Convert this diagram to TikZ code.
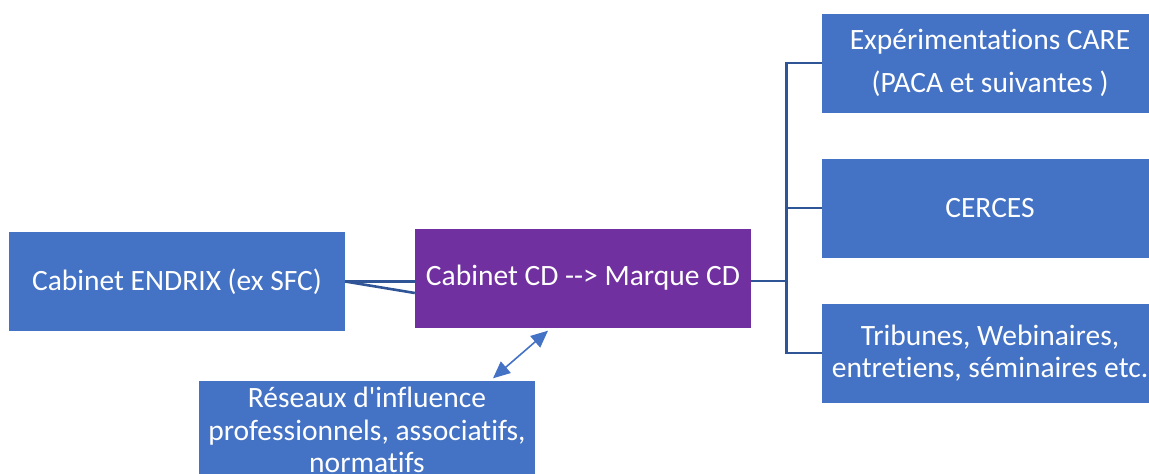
\documentclass[tikz,border=0pt]{standalone}
\usepackage{fontspec}
\setmainfont{Carlito}[Ligatures={NoCommon}]
\usetikzlibrary{calc,arrows.meta}
\definecolor{bleu}{HTML}{4472C4}
\definecolor{violetcd}{HTML}{7030A0}
\definecolor{trait}{HTML}{2F5597}
\tikzset{
  boite/.style={fill=bleu,text=white,minimum width=336pt,minimum height=99pt,
    inner sep=0pt,align=center,font=\fontsize{29.5}{32.5}\selectfont},
  tige/.style={draw=trait,line width=2.6pt},
  lien/.style={draw=bleu,line width=1.6pt,{Triangle[width=15pt,length=17pt]}-{Triangle[width=15pt,length=17pt]}}
}
\begin{document}
\begin{tikzpicture}[x=1pt,y=-1pt]
      \useasboundingbox (0,0) rectangle (1149,474);
      \clip (0,0) rectangle (1149,474);
      \node[boite] (E) at (177,281.5) {Cabinet ENDRIX (ex SFC)};
      \node[boite,fill=violetcd] (C) at (583,278) {Cabinet CD -{}-> Marque CD};
      \node[boite] (R) at (367,430) {R\'eseaux d\textquotesingle influence\\professionnels, associatifs,\\normatifs};
      \foreach \nom/\y/\txt in {%
        P1/63/{Exp\'erimentations CARE\\[10pt](PACA et suivantes )},
        P2/208/{CERCES},
        P3/353/{Tribunes, Webinaires,\\entretiens, s\'eminaires etc.}}{%
          \node[boite] (\nom) at (990,\y) {\txt};
        }
      \draw[tige] (E.east) -- (E.east -| C.west);
      \draw[tige] (E.east) -- ($(C.west)+(0,15)$);
      \coordinate (M) at ($(C.east)+(35,3)$);
      \draw[tige] ($(C.east)+(0,3)$) -- (M);
      \draw[tige] (P1.west) -| (M) |- (P3.west);
      \draw[tige] (M |- P2.west) -- (P2.west);
      \draw[lien] ($(R.north)+(126,-2)$) -- ($(C.south)+(-35,3)$);
    \end{tikzpicture}
\end{document}
